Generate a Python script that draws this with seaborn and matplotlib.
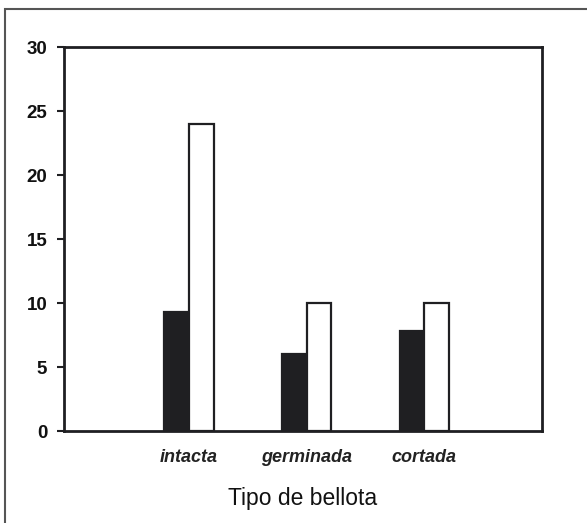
import matplotlib
matplotlib.use("Agg")
import matplotlib.pyplot as plt
from matplotlib.patches import Rectangle
import seaborn as sns
import pandas as pd

# Acorn types and the two measured series per type
categorias = ["intacta", "germinada", "cortada"]
serie_oscura = [9.3, 6.0, 7.8]
serie_clara = [24.0, 10.0, 10.0]
y_ticks = [0, 5, 10, 15, 20, 25, 30]

df = pd.DataFrame({
    "tipo": categorias * 2,
    "valor": serie_oscura + serie_clara,
    "serie": ["oscura"] * 3 + ["clara"] * 3,
})

sns.set_theme(style="white")
plt.rcParams["font.family"] = ["Liberation Sans", "DejaVu Sans"]

fig = plt.figure(figsize=(5.87, 5.23), dpi=100)
ax = fig.add_axes([64 / 587, 92 / 523, 478 / 587, 384 / 523])

edge = "#1f1f22"
sns.barplot(
    data=df, x="tipo", y="valor", hue="serie", order=categorias,
    hue_order=["oscura", "clara"], palette={"oscura": edge, "clara": "white"},
    width=0.42, gap=0, dodge=True, legend=False, ax=ax,
    edgecolor=edge, linewidth=1.6, saturation=1, errorbar=None,
)

ax.set_xlim(-1.06, 3.0)
ax.set_ylim(0, 30)
ax.set_yticks(y_ticks)
ax.set_yticklabels([str(t) for t in y_ticks], fontsize=13.5, fontweight="bold", color="#111111")
ax.set_xticks(range(len(categorias)))
ax.set_xticklabels(categorias, fontsize=13, fontstyle="italic", fontweight="bold", color="#222222")
ax.tick_params(axis="y", left=True, length=5, width=1.5, color=edge, pad=7)
ax.tick_params(axis="x", bottom=False, length=0, pad=13)
ax.set_ylabel("")
ax.set_xlabel("Tipo de bellota", fontsize=16.5, color="#111111", labelpad=15)

for s in ax.spines.values():
    s.set_visible(True)
    s.set_color(edge)
    s.set_linewidth(2)

# Outer frame around the figure
fig.patches.append(Rectangle((5 / 587, -0.05), 1.2, (523 - 9) / 523 + 0.05,
                             transform=fig.transFigure, fill=False,
                             edgecolor="#555555", linewidth=1.5))

fig.savefig("out.png", dpi=100, facecolor="white")
